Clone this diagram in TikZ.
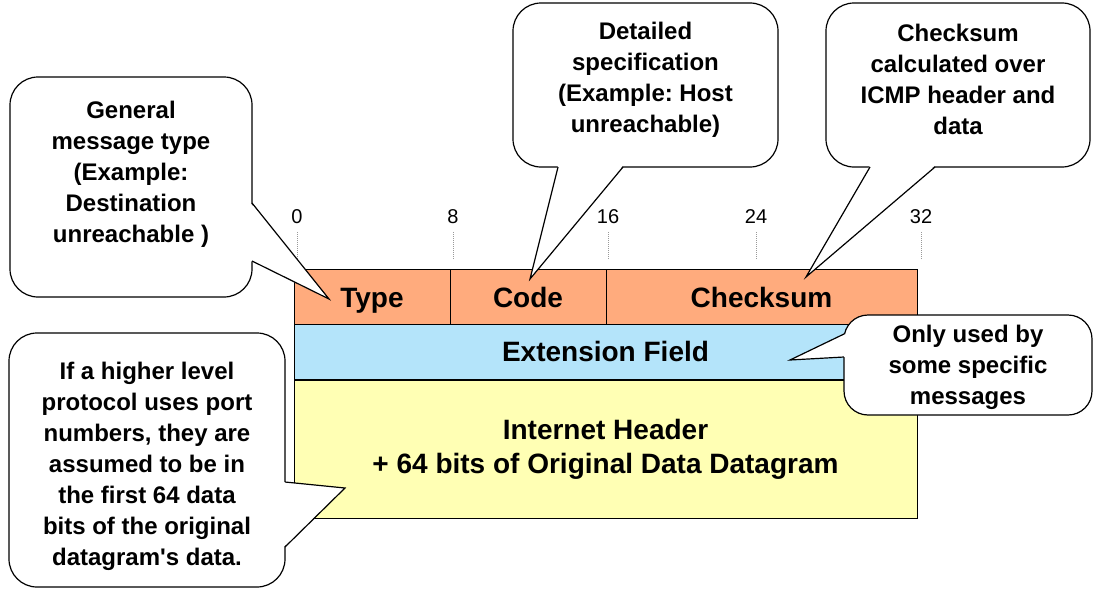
\documentclass[tikz,border=0pt]{standalone}
\usepackage{fontspec}
\newfontfamily\lsans{Liberation Sans}
\definecolor{orangef}{HTML}{FFAB7D}
\definecolor{bluef}{HTML}{B4E4FA}
\definecolor{yellowf}{HTML}{FFFFB4}
\frenchspacing
\begin{document}
\frenchspacing
\begin{tikzpicture}[x=1pt,y=-1pt,
  field/.style={draw=black, line width=1pt, inner sep=0pt, align=center,
    font=\lsans\bfseries\fontsize{28}{34}\selectfont\frenchspacing},
  hfield/.style={field, fill=orangef, minimum height=55pt, text height=25pt, text depth=4pt},
  tickline/.style={draw=gray!80, line width=1pt, dash pattern=on 1pt off 1pt},
  ticklabel/.style={inner sep=0pt, font=\lsans\fontsize{20}{24}\selectfont},
  callout/.style={draw=black, fill=white, line width=1.2pt, rounded corners=28pt, inner sep=0pt},
  ctext/.style={inner sep=0pt, align=center, font=\lsans\bfseries\fontsize{24}{31}\selectfont\frenchspacing},
  pointer/.style={draw=black, line width=1.2pt, line join=miter},
]
\useasboundingbox (0,0) rectangle (1095,589);

% ---- header fields ----
\node[hfield, minimum width=156pt] (type) at (372,296.5) {Type};
\node[hfield, minimum width=156pt] (code) at (528,296.5) {Code};
\node[hfield, minimum width=311pt] (chk) at (761.5,296.5) {Checksum};
\node[field, fill=bluef, minimum width=623pt, minimum height=55pt] (ext) at (605.5,351.5) {Extension Field};
\node[field, fill=yellowf, minimum width=623pt, minimum height=138pt] (inet) at (605.5,449) {Internet Header\\+ 64 bits of Original Data Datagram};

% ---- bit ticks ----
\foreach \x/\l/\n in {297/0/t0, 453/8/t8, 608/16/t16, 756/24/t24, 921/32/t32}{
  \node[ticklabel] (\n) at (\x,217) {\l};
  \draw[tickline] (\x,232) -- (\x,260);
}

% ---- callout 1: Type ----
\node[callout, minimum width=242pt, minimum height=220pt] (c1) at (131,187) {};
\node[ctext] (c1t) at (131,174) {General\\message type\\(Example:\\Destination\\unreachable )};
\coordinate (p1) at (329,299);
\fill[white] (250.5,203) -- (p1) -- (250.5,261) -- cycle;
\draw[pointer] (252,203) -- (p1) -- (252,261);

% ---- callout 2: Code ----
\node[callout, minimum width=265pt, minimum height=164pt] (c2) at (645.5,85) {};
\node[ctext] (c2t) at (645.5,80) {Detailed\\specification\\(Example: Host\\unreachable)};
\coordinate (p2) at (530,279);
\fill[white] (558,165.5) -- (p2) -- (623,165.5) -- cycle;
\draw[pointer] (558,167) -- (p2) -- (623,167);

% ---- callout 3: Checksum ----
\node[callout, minimum width=264pt, minimum height=164pt] (c3) at (958,85) {};
\node[ctext] (c3t) at (958,79) {Checksum\\calculated over\\ICMP header and\\data};
\coordinate (p3) at (806,277);
\fill[white] (870,165.5) -- (p3) -- (935,165.5) -- cycle;
\draw[pointer] (870,167) -- (p3) -- (935,167);

% ---- callout 4: Extension ----
\node[callout, rounded corners=24pt, minimum width=248pt, minimum height=100pt] (c4) at (968,365) {};
\node[ctext] (c4t) at (968,367) {Only used by\\some specific\\messages};
\coordinate (p4) at (790,360);
\fill[white] (845.5,334) -- (p4) -- (845.5,357) -- cycle;
\draw[pointer] (844,334) -- (p4) -- (844,357);

% ---- callout 5: Internet header ----
\node[callout, minimum width=276pt, minimum height=254pt] (c5) at (147,460) {};
\node[ctext] (c5t) at (147,466) {If a higher level\\protocol uses port\\numbers, they are\\assumed to be in\\the first 64 data\\bits of the original\\datagram\textquotesingle s data.};
\coordinate (p5) at (345,488);
\fill[white] (283.5,482) -- (p5) -- (283.5,547) -- cycle;
\draw[pointer] (285,482) -- (p5) -- (285,547);
\end{tikzpicture}
\end{document}
